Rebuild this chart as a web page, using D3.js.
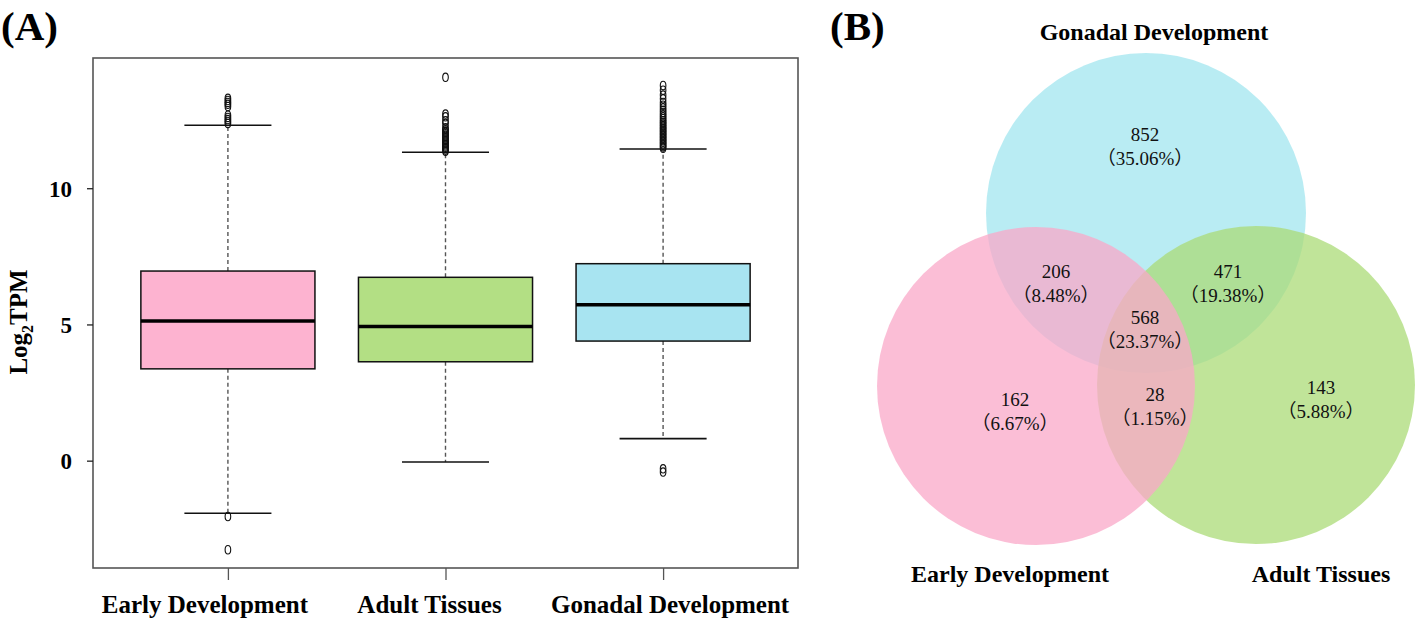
<!DOCTYPE html>
<html>
<head>
<meta charset="utf-8">
<script src="https://cdn.jsdelivr.net/npm/d3@7"></script>
<style>
  html, body { margin: 0; padding: 0; background: #fff; }
  svg { display: block; }
  text { font-family: "Liberation Serif", "Times New Roman", "Noto Sans CJK SC", serif; }
</style>
</head>
<body>
<svg id="chart" width="1418" height="622"></svg>
<script>
// ---------- Panel A data: Log2TPM boxplots ----------
const groups = ["Early Development", "Adult Tissues", "Gonadal Development"];
const boxColors = ["#fdb3d0", "#b3df84", "#a8e4f1"];
const whiskerLow = [-1.93, -0.05, 0.81];
const q1 = [3.37, 3.63, 4.39];
const medians = [5.13, 4.92, 5.72];
const q3 = [6.96, 6.73, 7.23];
const whiskerHigh = [12.31, 11.32, 11.44];
const outliersEarly = [12.38, 12.45, 12.52, 12.6, 12.68, 13.0, 13.08, 13.15, 13.22, 13.3, -2.05, -3.27];
const outliersAdult = [11.36, 11.4, 11.45, 11.5, 11.55, 11.6, 11.65, 11.7, 11.75, 11.8, 11.85, 11.9, 11.95, 12.0, 12.05, 12.1, 12.15, 12.22, 12.38, 12.48, 12.62, 12.72, 14.07];
const outliersGonadal = [11.47, 11.52, 11.58, 11.63, 11.69, 11.74, 11.8, 11.85, 11.91, 11.96, 12.02, 12.07, 12.13, 12.18, 12.24, 12.3, 12.36, 12.42, 12.48, 12.55, 12.62, 12.7, 12.78, 12.86, 12.95, 13.05, 13.15, 13.28, 13.42, 13.6, 13.77, -0.3, -0.42];
const yTicks = [0, 5, 10];

// ---------- Panel B data: Venn diagram ----------
const vennSets = ["Gonadal Development", "Early Development", "Adult Tissues"];
const vennColors = ["rgb(162,230,239)", "rgb(250,168,200)", "rgb(171,219,119)"];
const regionKeys = ["G", "GE", "GA", "GEA", "E", "EA", "A"];
const regionCounts = [852, 206, 471, 568, 162, 28, 143];
const regionPercents = ["35.06%", "8.48%", "19.38%", "23.37%", "6.67%", "1.15%", "5.88%"];

const svg = d3.select("#chart");

// ================= Panel A =================
const frame = { left: 93, right: 798, top: 58, bottom: 568 };
const x = d3.scaleLinear().domain([0.38, 3.62]).range([frame.left, frame.right]);
const y = d3.scaleLinear().domain([-3.94, 14.78]).range([frame.bottom, frame.top]);

const gA = svg.append("g");

// panel letter
svg.append("text").attr("x", 1).attr("y", 40)
  .attr("font-size", 41).attr("font-weight", "bold").text("(A)");

// frame
gA.append("rect")
  .attr("x", frame.left).attr("y", frame.top)
  .attr("width", frame.right - frame.left).attr("height", frame.bottom - frame.top)
  .attr("fill", "none").attr("stroke", "#555").attr("stroke-width", 1.6);

// y axis
const yAxis = d3.axisLeft(y).tickValues(yTicks).tickSize(6).tickPadding(15);
const yg = gA.append("g").attr("transform", `translate(${frame.left},0)`).call(yAxis);
yg.select(".domain").remove();
yg.selectAll(".tick line").attr("stroke", "#222").attr("stroke-width", 1.3);
yg.selectAll(".tick text")
  .attr("font-family", "Liberation Serif, Times New Roman, serif")
  .attr("font-size", 23).attr("font-weight", "bold").attr("fill", "#000")
  .attr("dy", "0.35em");

// x axis (ticks only)
const labelOffsets = [-23, -16, 7];
const xAxis = d3.axisBottom(x).tickValues([1, 2, 3]).tickSize(12).tickFormat(() => "");
const xg = gA.append("g").attr("transform", `translate(0,${frame.bottom})`).call(xAxis);
xg.select(".domain").remove();
xg.selectAll(".tick line").attr("stroke", "#555").attr("stroke-width", 1.3);

groups.forEach((g, i) => {
  gA.append("text")
    .attr("x", x(i + 1) + labelOffsets[i]).attr("y", 613)
    .attr("text-anchor", "middle")
    .attr("font-size", 25).attr("font-weight", "bold")
    .text(g);
});

// y label
const yl = gA.append("text")
  .attr("transform", "translate(27,322) rotate(-90)")
  .attr("text-anchor", "middle")
  .attr("font-size", 25).attr("font-weight", "bold");
yl.append("tspan").text("Log");
yl.append("tspan").attr("font-size", 16).attr("dy", 6).text("2");
yl.append("tspan").attr("dy", -6).text("TPM");

// boxes
const allOutliers = [outliersEarly, outliersAdult, outliersGonadal];
const boxHalf = 0.4, capHalf = 0.2;
groups.forEach((g, i) => {
  const c = i + 1;
  const cx = x(c);
  gA.append("line").attr("x1", cx).attr("x2", cx)
    .attr("y1", y(q3[i])).attr("y2", y(whiskerHigh[i]))
    .attr("stroke", "#555").attr("stroke-width", 1.4).attr("stroke-dasharray", "4,3");
  gA.append("line").attr("x1", cx).attr("x2", cx)
    .attr("y1", y(q1[i])).attr("y2", y(whiskerLow[i]))
    .attr("stroke", "#555").attr("stroke-width", 1.4).attr("stroke-dasharray", "4,3");
  [whiskerHigh[i], whiskerLow[i]].forEach(v => {
    gA.append("line").attr("x1", x(c - capHalf)).attr("x2", x(c + capHalf))
      .attr("y1", y(v)).attr("y2", y(v))
      .attr("stroke", "#111").attr("stroke-width", 1.6);
  });
  gA.append("rect")
    .attr("x", x(c - boxHalf)).attr("y", y(q3[i]))
    .attr("width", x(c + boxHalf) - x(c - boxHalf)).attr("height", y(q1[i]) - y(q3[i]))
    .attr("fill", boxColors[i]).attr("stroke", "#111").attr("stroke-width", 1.5);
  gA.append("line").attr("x1", x(c - boxHalf)).attr("x2", x(c + boxHalf))
    .attr("y1", y(medians[i])).attr("y2", y(medians[i]))
    .attr("stroke", "#000").attr("stroke-width", 3.5);
  gA.selectAll(null).data(allOutliers[i]).enter().append("ellipse")
    .attr("cx", cx).attr("cy", d => y(d))
    .attr("rx", 2.8).attr("ry", 4.2)
    .attr("fill", "none").attr("stroke", "#111").attr("stroke-width", 1.1);
});

// ================= Panel B =================
svg.append("text").attr("x", 830).attr("y", 40)
  .attr("font-size", 41).attr("font-weight", "bold").text("(B)");

const circles = [
  { cx: 1146, cy: 213, r: 160 },
  { cx: 1036, cy: 386, r: 159 },
  { cx: 1256, cy: 385, r: 159 }
];
const gB = svg.append("g");
[0, 2, 1].forEach(i => {
  gB.append("circle")
    .attr("cx", circles[i].cx).attr("cy", circles[i].cy).attr("r", circles[i].r)
    .attr("fill", vennColors[i]).attr("fill-opacity", 0.75);
});

const setLabelPos = [[1154, 40], [1010, 582], [1321, 582]];
vennSets.forEach((s, i) => {
  gB.append("text")
    .attr("x", setLabelPos[i][0]).attr("y", setLabelPos[i][1])
    .attr("text-anchor", "middle")
    .attr("font-size", 24).attr("font-weight", "bold")
    .text(s);
});

const regionPos = {
  G: [1145, 141], GE: [1056, 278], GA: [1228, 278], GEA: [1145, 324],
  E: [1015, 406], EA: [1155, 401], A: [1321, 394]
};
regionKeys.forEach((k, i) => {
  const [px, py] = regionPos[k];
  gB.append("text").attr("x", px).attr("y", py)
    .attr("text-anchor", "middle").attr("font-size", 19).attr("fill", "#111")
    .text(regionCounts[i]);
  gB.append("text").attr("x", px).attr("y", py + 23.5)
    .attr("text-anchor", "middle").attr("font-size", 19).attr("fill", "#111")
    .text("（" + regionPercents[i] + "）");
});
</script>
</body>
</html>
